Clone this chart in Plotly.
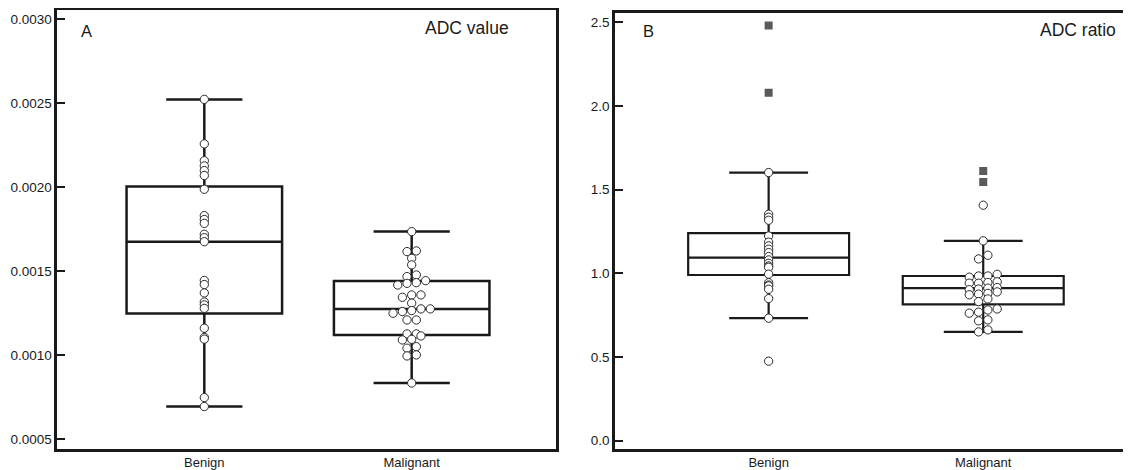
import plotly.graph_objects as go

# ---------------- data ----------------
categories = ["Benign", "Malignant"]

# Panel A: ADC value
adc_benign = [0.002523, 0.002258, 0.002158, 0.002127, 0.002099, 0.002070, 0.001988,
              0.001831, 0.001808, 0.001785, 0.001720, 0.001700, 0.001676, 0.001445,
              0.001421, 0.001371, 0.001317, 0.001300, 0.001279, 0.001161, 0.001106,
              0.001096, 0.000748, 0.000695]
adc_malignant = [0.001736, 0.001621, 0.001617, 0.001577, 0.001538, 0.001478, 0.001468,
                 0.001444, 0.001432, 0.001428, 0.001418, 0.001359, 0.001359, 0.001345,
                 0.001310, 0.001276, 0.001276, 0.001266, 0.001260, 0.001250, 0.001210,
                 0.001210, 0.001127, 0.001127, 0.001115, 0.001095, 0.001091, 0.001051,
                 0.001042, 0.001002, 0.000996, 0.000835]
adc_q1 = [0.001248, 0.001121]
adc_median = [0.001676, 0.001276]
adc_q3 = [0.002004, 0.001442]
adc_low = [0.000695, 0.000835]
adc_high = [0.002523, 0.001736]

# Panel B: ADC ratio
ratio_benign = [1.602, 1.353, 1.335, 1.317, 1.223, 1.186, 1.164, 1.144, 1.124, 1.100,
                1.080, 1.060, 1.044, 1.036, 0.995, 0.944, 0.930, 0.925, 0.905, 0.849,
                0.732, 0.475]
ratio_benign_far = [2.480, 2.079]
ratio_malignant = [1.407, 1.194, 1.108, 1.086, 0.994, 0.984, 0.984, 0.977, 0.949, 0.945,
                   0.941, 0.941, 0.915, 0.911, 0.906, 0.902, 0.889, 0.880, 0.876, 0.872,
                   0.847, 0.831, 0.787, 0.781, 0.768, 0.762, 0.722, 0.716, 0.662, 0.650]
ratio_malignant_far = [1.612, 1.546]
ratio_q1 = [0.990, 0.815]
ratio_median = [1.094, 0.911]
ratio_q3 = [1.240, 0.984]
ratio_low = [0.732, 0.650]
ratio_high = [1.602, 1.194]

adc_ticks = [0.0005, 0.0010, 0.0015, 0.0020, 0.0025, 0.0030]
ratio_ticks = [0.0, 0.5, 1.0, 1.5, 2.0, 2.5]

# ---------------- layout constants ----------------
PAGE_W, PAGE_H = 1131, 470
OFF = 8                      # page body margin
W, H = PAGE_W - OFF, PAGE_H - OFF
FONT = "Liberation Sans, Arial, Helvetica, sans-serif"
INK = "#1a1a1a"


def fx(px):
    return (px - OFF) / W


def fy(py):
    return 1 - (py - OFF) / H


A_dom_x = [fx(57.3), fx(556)]
A_dom_y = [fy(449), fy(10)]
B_dom_x = [fx(615), fx(1127)]
B_dom_y = [fy(449), fy(12.7)]
A_xrange = [-0.709, 1.696]
B_xrange = [-0.716, 1.670]
A_yrange = [0.000442, 0.003055]
B_yrange = [-0.0496, 2.557]

MARK_D = 9.3      # marker step in px for swarm
BIN_PX = 4.7      # bin height in px for swarm rows


def px_per_unit(dom, rng, total):
    return (dom[1] - dom[0]) * total / (rng[1] - rng[0])


def swarm_offsets(values, bin_h, step):
    n = len(values)
    order = sorted(range(n), key=lambda i: values[i])
    bins, cur, start = [], [], None
    for i in order:
        if cur and values[i] - start >= bin_h:
            bins.append(cur)
            cur = []
        if not cur:
            start = values[i]
        cur.append(i)
    if cur:
        bins.append(cur)
    off = [0.0] * n
    for b in bins:
        m = len(b)
        for k, i in enumerate(b):
            off[i] = (k - (m - 1) / 2) * step
    return off


fig = go.Figure()


def add_panel(xa, ya, dom_x, dom_y, xr, yr, groups, far_groups, q1, med, q3, lo, hi, lw):
    xppu = px_per_unit(dom_x, xr, W)
    yppu = px_per_unit(dom_y, yr, H)
    fig.add_trace(go.Box(
        x=[0, 1], q1=q1, median=med, q3=q3, lowerfence=lo, upperfence=hi,
        width=0.75, whiskerwidth=0.49, boxpoints=False,
        fillcolor="rgba(0,0,0,0)", line=dict(color=INK, width=lw),
        xaxis=xa, yaxis=ya, showlegend=False, hoverinfo="skip"))
    for idx, (vals, swarm) in enumerate(groups):
        if swarm:
            offs = swarm_offsets(vals, BIN_PX / yppu, MARK_D)
        else:
            offs = [0.0] * len(vals)
        xs = [idx + o / xppu for o in offs]
        fig.add_trace(go.Scatter(
            x=xs, y=vals, mode="markers", xaxis=xa, yaxis=ya, showlegend=False,
            marker=dict(symbol="circle", size=8.3, color="white",
                        line=dict(color="#2a2a2a", width=1)),
            hoverinfo="y"))
    for idx, vals in enumerate(far_groups):
        if not vals:
            continue
        fig.add_trace(go.Scatter(
            x=[idx] * len(vals), y=vals, mode="markers", xaxis=xa, yaxis=ya,
            showlegend=False,
            marker=dict(symbol="square", size=8, color="#5a5a5a", line=dict(width=0)),
            hoverinfo="y"))


add_panel("x", "y", A_dom_x, A_dom_y, A_xrange, A_yrange,
          [(adc_benign, False), (adc_malignant, True)], [[], []],
          adc_q1, adc_median, adc_q3, adc_low, adc_high, 2.5)
add_panel("x2", "y2", B_dom_x, B_dom_y, B_xrange, B_yrange,
          [(ratio_benign, False), (ratio_malignant, True)],
          [ratio_benign_far, ratio_malignant_far],
          ratio_q1, ratio_median, ratio_q3, ratio_low, ratio_high, 2.2)

xaxis_common = dict(showline=True, mirror=True, linewidth=2.5, linecolor=INK,
                    showgrid=False, zeroline=False, ticks="", automargin=False,
                    tickvals=[0, 1], ticktext=categories,
                    tickfont=dict(family=FONT, size=13, color=INK))
yaxis_common = dict(showline=True, mirror=True, linewidth=2.5, linecolor=INK,
                    showgrid=False, zeroline=False, ticks="inside", ticklen=8,
                    tickwidth=2, tickcolor=INK, automargin=False,
                    tickfont=dict(family=FONT, size=13.5, color=INK))

fig.update_layout(
    width=W, height=H,
    margin=dict(l=0, r=0, t=0, b=0, pad=0),
    paper_bgcolor="white", plot_bgcolor="white",
    showlegend=False,
    xaxis=dict(domain=A_dom_x, range=A_xrange, anchor="y", **xaxis_common),
    yaxis=dict(domain=A_dom_y, range=A_yrange, anchor="x", tickvals=adc_ticks,
               tickformat=".4f", **yaxis_common),
    xaxis2=dict(domain=B_dom_x, range=B_xrange, anchor="y2", **xaxis_common),
    yaxis2=dict(domain=B_dom_y, range=B_yrange, anchor="x2", tickvals=ratio_ticks,
                tickformat=".1f", **yaxis_common),
    annotations=[
        dict(text="A", x=fx(79), y=fy(31.5), xref="paper", yref="paper",
             xanchor="left", yanchor="middle", showarrow=False,
             font=dict(family=FONT, size=16.5, color=INK)),
        dict(text="ADC value", x=fx(511), y=fy(28), xref="paper", yref="paper",
             xanchor="right", yanchor="middle", showarrow=False,
             font=dict(family=FONT, size=17.5, color=INK)),
        dict(text="B", x=fx(641), y=fy(31), xref="paper", yref="paper",
             xanchor="left", yanchor="middle", showarrow=False,
             font=dict(family=FONT, size=16.5, color=INK)),
        dict(text="ADC ratio", x=fx(1118), y=fy(29.5), xref="paper", yref="paper",
             xanchor="right", yanchor="middle", showarrow=False,
             font=dict(family=FONT, size=17.5, color=INK)),
    ],
)

fig.write_html("out.html")
